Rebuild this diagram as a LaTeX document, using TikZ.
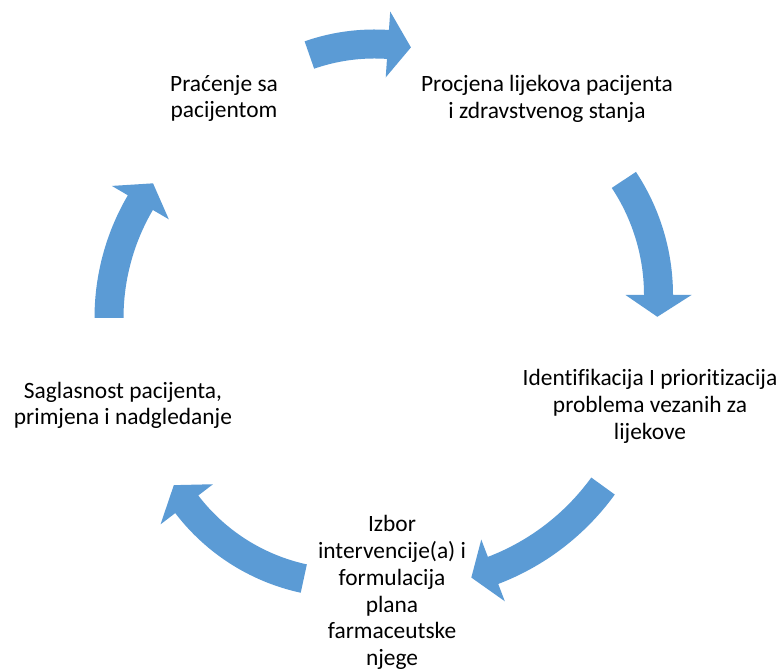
\documentclass[tikz,border=0pt]{standalone}
\usepackage{fontspec}
\setmainfont{Carlito}[Ligatures={NoCommon}]
\definecolor{arrowblue}{HTML}{5B9BD5}
% curved arrow: centre x, centre y, radius, tail angle, head-base angle, tip angle
\newcommand\cyclearrow[6]{%
  \fill[arrowblue] plot[domain=#4:#5,samples=40] ({#1+(#3+14.5)*cos(\x)},{#2+(#3+14.5)*sin(\x)})
   -- ({#1+(#3+33)*cos(#5)},{#2+(#3+33)*sin(#5)})
   -- ({#1+#3*cos(#6)},{#2+#3*sin(#6)})
   -- ({#1+(#3-33)*cos(#5)},{#2+(#3-33)*sin(#5)})
   -- plot[domain=#5:#4,samples=40] ({#1+(#3-14.5)*cos(\x)},{#2+(#3-14.5)*sin(\x)}) -- cycle;}
\begin{document}
\begin{tikzpicture}[x=1pt,y=1pt,
  txt/.style={font=\fontsize{23.4}{26.8}\selectfont, align=center, inner sep=0pt, anchor=north, text=black}]
\fill[white] (0,0) rectangle (783,671);
\useasboundingbox (0,0) rectangle (783,671);
% texts
\node[txt] (assess) at (547,598.3) {\rule{0pt}{19pt}Procjena lijekova pacijenta\\ i zdravstvenog stanja};
\node[txt] (ident) at (650,304.5) {\rule{0pt}{19pt}Identifikacija I prioritizacija\\ problema vezanih za\\ lijekove};
\node[txt] (plan) at (392,158.5) {\rule{0pt}{19pt}Izbor\\ intervencije(a) i\\ formulacija\\ plana\\ farmaceutske\\ njege};
\node[txt] (agree) at (123,292) {\rule{0pt}{19pt}Saglasnost pacijenta,\\ primjena i nadgledanje};
\node[txt] (follow) at (224,599) {\rule{0pt}{19pt}Praćenje sa\\ pacijentom};
% arrows
\cyclearrow{374.5}{429}{198}{109.2}{86.1}{79.4}
\cyclearrow{450}{376}{208.5}{33.5}{0}{-6}
\cyclearrow{406.5}{327.2}{242.6}{-35.9}{-69.1}{-74.5}
\cyclearrow{346.2}{288.6}{200.7}{-102.2}{-142.6}{-149.2}
\cyclearrow{337}{353}{228}{180}{149.6}{143.8}
\end{tikzpicture}
\end{document}
